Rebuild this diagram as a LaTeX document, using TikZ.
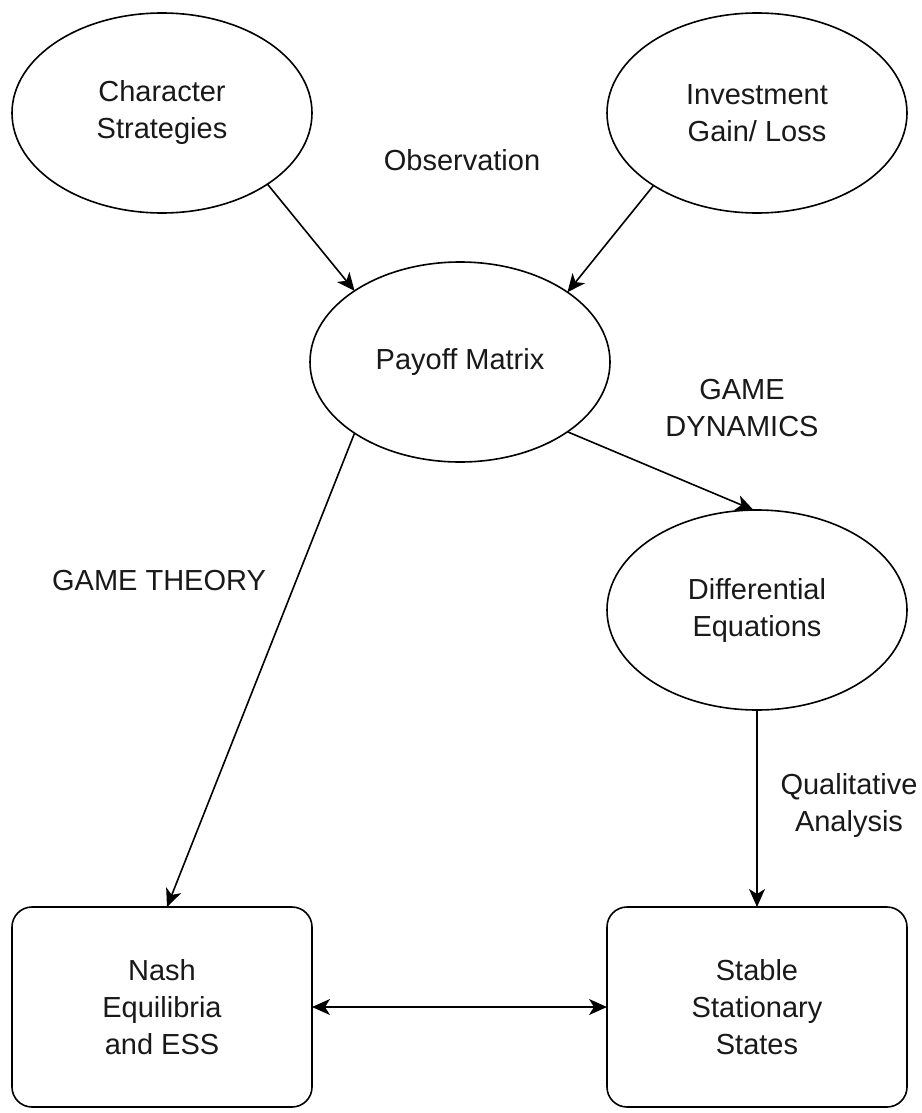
\documentclass[tikz,border=0pt]{standalone}
\usepackage{fontspec}
\setmainfont{Liberation Sans}
\usetikzlibrary{arrows.meta,shapes.geometric,calc}
\begin{document}
\begin{tikzpicture}[x=1pt,y=-1pt,
  every node/.style={font=\fontsize{29}{37}\selectfont, text=black!90, align=center},
  ell/.style={draw, ellipse, line width=1.6pt, minimum width=300pt, minimum height=200pt, inner sep=0pt, outer sep=0pt},
  rbox/.style={draw, rounded corners=20pt, line width=1.6pt, minimum width=300pt, minimum height=200pt, inner sep=0pt, outer sep=0pt},
  conn/.style={line width=1.6pt, -{Stealth[length=18pt,width=16pt,inset=5pt]}},
  biconn/.style={line width=1.6pt, {Stealth[length=18pt,width=16pt,inset=5pt]}-{Stealth[length=18pt,width=16pt,inset=5pt]}},
  lbl/.style={inner sep=0pt}
]
\useasboundingbox (0,0) rectangle (921,1113);
\fill[white] (0,0) rectangle (921,1113);

\node[ell] (C) at (162,113) {Character\\Strategies};
\node[ell] (I) at (757,113) {Investment\\Gain/ Loss};
\node[ell] (P) at (460,362) {Payoff Matrix};
\node[ell] (D) at (757,610) {Differential\\Equations};
\node[rbox] (N) at (162,1007) {Nash\\Equilibria\\and ESS};
\node[rbox] (S) at (757,1007) {Stable\\Stationary\\States};

\node[lbl] (obs) at (462,160) {Observation};
\node[lbl] (gd) at (742,408) {GAME\\DYNAMICS};
\node[lbl] (gt) at (159,581) {GAME THEORY};
\node[lbl] (qa) at (849,805) {Qualitative\\Analysis};

\draw[conn] (C.-34.2) -- (P.146.1);
\draw[conn] (I.215.2) -- (P.33.2);
\draw[conn] (P.-33.3) -- (D.92.9);
\draw[conn] (P.-146.4) -- ($(N.north)+(5,0)$);
\draw[conn] (D.south) -- (S.north);
\draw[biconn] (N.east) -- (S.west);
\end{tikzpicture}
\end{document}
